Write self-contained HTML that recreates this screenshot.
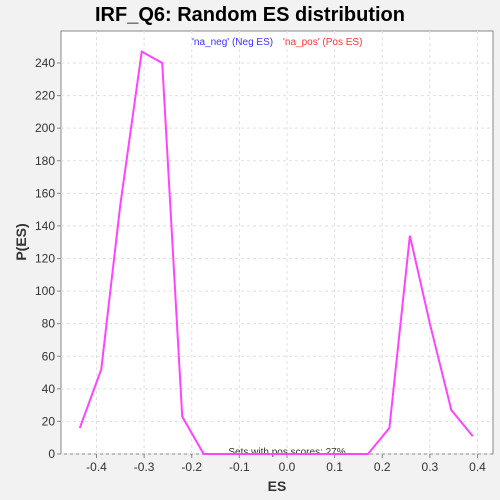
<!DOCTYPE html>
<html><head><meta charset="utf-8"><style>
body{margin:0;background:#f2f2f2;}
svg{display:block;font-family:"Liberation Sans",sans-serif;}
</style></head><body>
<svg id="c" width="500" height="500">
<rect x="0" y="0" width="500" height="500" fill="#f2f2f2"/>
<text x="250" y="21" text-anchor="middle" font-size="20" font-weight="bold" fill="#000">IRF_Q6: Random ES distribution</text>
<rect x="61" y="31" width="432" height="423" fill="#fff" stroke="#888"/>
<g id="grid"></g><g id="ticks"></g>
<text x="192" y="45" font-size="10" fill="#3333ff">'na_neg' (Neg ES)</text>
<text x="283" y="45" font-size="10" fill="#ff3333">'na_pos' (Pos ES)</text>
<text x="287" y="455" text-anchor="middle" font-size="10" fill="#333">Sets with pos scores: 27%</text>
<text x="277" y="491" text-anchor="middle" font-size="14" font-weight="bold" fill="#333">ES</text>
<text x="26" y="242" text-anchor="middle" font-size="14" font-weight="bold" fill="#333" transform="rotate(-90 26 242)">P(ES)</text>
<polyline id="line" fill="none" stroke="#ff44ff" stroke-width="2"/>
</svg>
<script>
const xs=[-0.435,-0.39,-0.35,-0.305,-0.262,-0.22,-0.175,0.17,0.215,0.258,0.30,0.345,0.39];
const ys=[16,52,153,247,240,23,0,0,16,134,80,27,11];
const xTicks=[-0.4,-0.3,-0.2,-0.1,0.0,0.1,0.2,0.3,0.4];
const yTicks=[0,20,40,60,80,100,120,140,160,180,200,220,240];
const X=v=>287+v*476.25, Y=v=>454-v*391/240;
const ns="http://www.w3.org/2000/svg";
const g=document.getElementById('grid'),t=document.getElementById('ticks');
function mk(tag,a,p){const e=document.createElementNS(ns,tag);for(const k in a)e.setAttribute(k,a[k]);p.appendChild(e);return e;}
xTicks.forEach(v=>{const x=X(v);
const l=mk('line',{x1:x,x2:x,y1:31,y2:454,stroke:'#e0e0e0','stroke-dasharray':'3,3'},g);

const k=mk('line',{x1:x,x2:x,y1:454,y2:458,stroke:'#888'},t);

const s=mk('text',{x:x,y:471,'text-anchor':'middle','font-size':12,fill:'#333'},t);s.textContent=v.toFixed(1);
});
yTicks.forEach(v=>{const y=Y(v);
const l=mk('line',{x1:61,x2:493,y1:y,y2:y,stroke:'#e0e0e0','stroke-dasharray':'3,3'},g);

const k=mk('line',{x1:57,x2:61,y1:y,y2:y,stroke:'#888'},t);

const s=mk('text',{x:55,y:y+4,'text-anchor':'end','font-size':12,fill:'#333'},t);s.textContent=v;
});
document.getElementById('line').setAttribute('points',xs.map((x,i)=>X(x)+','+Y(ys[i])).join(' '));
</script>
</body></html>
